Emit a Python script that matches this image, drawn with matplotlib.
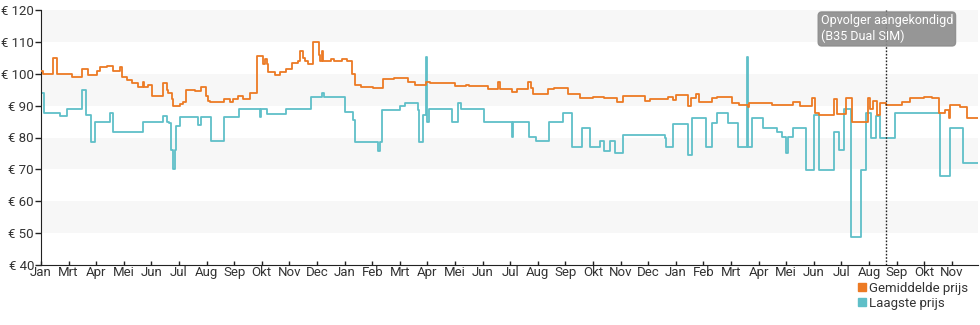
import matplotlib
matplotlib.use("Agg")
import matplotlib.pyplot as plt
from matplotlib.lines import Line2D

plt.rcParams['font.family'] = ['Roboto', 'DejaVu Sans']

# x in maanden sinds begin van de reeks
maand_labels = ["Jan", "Mrt", "Apr", "Mei", "Jun", "Jul", "Aug", "Sep", "Okt", "Nov", "Dec",
                "Jan", "Feb", "Mrt", "Apr", "Mei", "Jun", "Jul", "Aug", "Sep", "Okt", "Nov", "Dec",
                "Jan", "Feb", "Mrt", "Apr", "Mei", "Jun", "Jul", "Aug", "Sep", "Okt", "Nov"]

gem_x = [0, 0.08, 0.45, 0.57, 1.11, 1.47, 1.71, 2.02, 2.14, 2.38, 2.62, 2.86, 2.92, 3.10, 3.29,
         3.53, 3.68, 3.73, 3.89, 4.01, 4.43, 4.55, 4.61, 4.73, 4.79, 5.04, 5.16, 5.25, 5.58, 5.80,
         5.97, 6.06, 6.12, 6.63, 6.84, 6.97, 7.15, 7.33, 7.57, 7.81, 8.06, 8.12, 8.18, 8.24, 8.48,
         8.66, 8.88, 9.08, 9.32, 9.38, 9.51, 9.57, 9.69, 9.87, 10.08, 10.11, 10.17, 10.23, 10.5,
         10.6, 10.9, 11.1, 11.26, 11.38, 11.6, 12.04, 12.40, 12.8, 13.31, 13.55, 13.96, 14.1, 15.0,
         15.4, 15.5, 16.2, 16.55, 16.63, 17.05, 17.23, 17.66, 17.75, 17.84, 18.38, 18.6, 19.1,
         19.53, 20.01, 20.4, 20.86, 21.1, 21.88, 22.07, 22.7, 22.9, 23.0, 23.45, 23.55, 23.75,
         23.85, 24.3, 24.5, 25.05, 25.3, 25.6, 25.65, 26.5, 26.8, 27.25, 27.5, 27.95, 28.05, 28.2,
         28.75, 28.85, 29.15, 29.4, 29.95, 30.05, 30.15, 30.3, 30.4, 30.62, 31.2, 31.5, 32.0, 32.3,
         32.55, 32.75, 32.9, 32.95, 33.3, 33.55, 33.95]
gem_prijs = [101, 100, 105, 100, 99, 101.5, 99.5, 101, 102, 102.5, 101, 102, 99, 98, 97,
             96, 97.5, 96, 96.5, 93, 97, 95, 94, 92, 90, 90.5, 91, 95, 94.5, 96,
             93, 91.5, 91, 92, 91, 92, 93, 92, 94, 105.5, 103, 104.5, 103, 100.5, 99.5,
             100.5, 101.5, 103.5, 104, 107, 105, 104, 103, 110, 106, 104, 107, 104, 104.5,
             104, 104.5, 104, 100, 96.5, 96, 95.4, 98.3, 98.6, 97.5, 96.5, 97.5, 97.2, 96.2,
             96.5, 96.2, 95.1, 97.5, 95.1, 94.4, 95.1, 97.5, 95.5, 93.8, 95.1, 95.4, 93.6,
             92.3, 92.6, 92.3, 91.2, 93, 91.5, 92, 92.8, 91.8, 93.3, 89.9, 92.3, 93.5,
             91.2, 92.3, 92.8, 90.7, 90.2, 89.5, 90.7, 90.2, 90.2, 91.2, 90, 92.3, 87.6, 87.1,
             92, 87.3, 92.3, 85, 92.5, 89, 91.5, 87, 90.7, 90.2, 91, 92.3, 92.6, 92.3,
             87.6, 88.5, 86.1, 90.2, 89.7, 86.1, 86.1]

laag_x = [0, 0.1, 0.69, 0.93, 1.47, 1.63, 1.80, 1.96, 2.5, 2.62, 3.71, 4.43, 4.55, 4.62, 4.70,
          4.78, 4.84, 4.90, 5.05, 5.70, 5.78, 6.15, 6.63, 7.19, 7.93, 7.98, 8.2, 8.88, 9.8, 10.17,
          10.25, 11.0, 11.3, 11.38, 12.22, 12.30, 12.35, 13.0, 13.19, 13.65, 13.7, 13.85, 13.94,
          13.99, 14.05, 14.9, 15.1, 15.2, 16.06, 17.06, 17.1, 17.69, 17.95, 18.4, 18.9, 19.23,
          19.6, 19.9, 20.25, 20.4, 20.6, 20.8, 21.1, 22.6, 22.66, 22.9, 23.45, 23.6, 24.1, 24.3,
          24.5, 24.9, 25.27, 25.58, 25.63, 25.75, 26.15, 26.66, 26.85, 27.0, 27.05, 27.25, 27.7,
          28.0, 28.2, 28.75, 28.9, 29.1, 29.35, 29.7, 29.9, 30.07, 30.25, 30.4, 30.95, 32.58,
          32.95, 33.4, 33.95]
laag_prijs = [93.9, 87.8, 86.7, 88.8, 94.9, 87, 78.7, 85, 87.8, 81.8, 85, 86.7, 85, 84.5, 76.1,
              70, 76, 83.6, 86.5, 83.9, 86.5, 79, 86.5, 88.9, 86.5, 88.9, 87.4, 88.9, 92.8, 93.9,
              92.8, 88.1, 85.6, 78.7, 75.9, 78.7, 88.6, 89.9, 90.9, 88.6, 78.7, 87, 105.2,
              85, 88.8, 85, 90.9, 88.8, 85, 80.1, 85, 80.3, 79, 85, 87.8, 77.1,
              82.9, 77.1, 79, 75.9, 79, 75, 80.8, 80, 77.1, 84.2, 74.5, 86, 77.1, 84.4,
              87.8, 84.4, 77.1, 105.2, 77.1, 86, 82.9, 81.8, 80.3, 75, 80.3, 82.9, 69.8,
              87.1, 69.8, 81.8, 76.1, 88.8, 48.9, 69.8, 87.8, 79.7, 86.7, 79.7, 87.8, 67.9,
              82.9, 72.1, 72.1]

opvolger_x = 30.62

oranje = '#ec7a24'
turkoois = '#5fbfc8'

fig = plt.figure(figsize=(9.8, 3.25), dpi=100)
ax = fig.add_axes([41 / 980, 60 / 325, 937 / 980, 255 / 325])

# afwisselende grijze banden
for onder in (110, 90, 70, 50):
    ax.axhspan(onder, onder + 10, color='#f7f7f7', zorder=0, lw=0)

ax.step(laag_x, laag_prijs, where='post', color=turkoois, lw=1.3, zorder=2)
ax.step(gem_x, gem_prijs, where='post', color=oranje, lw=1.3, zorder=3)

ax.axvline(opvolger_x, color='#222222', lw=1.0, ls=(0, (1.2, 1.2)), zorder=4)
ax.text(28.25, 118.6, "Opvolger aangekondigd\n(B35 Dual SIM)", ha='left', va='top',
        fontsize=9, color='white', linespacing=1.25, zorder=5,
        bbox=dict(boxstyle='round,pad=0.2,rounding_size=0.3', fc='#8c8c8c', ec='#8c8c8c',
                  alpha=0.9))

ax.set_xlim(0, 33.95)
ax.set_ylim(40, 120)
ax.set_yticks(range(40, 121, 10))
ax.set_yticklabels([f"€ {v}" for v in range(40, 121, 10)])
ax.set_xticks(range(len(maand_labels)))
ax.set_xticklabels(maand_labels)

for kant in ('top', 'right'):
    ax.spines[kant].set_visible(False)
ax.spines['left'].set_color('#222222')
ax.spines['bottom'].set_color('#222222')
ax.tick_params(axis='y', direction='out', length=4, width=1, colors='#222222',
               labelsize=9.5, labelcolor='#333333', pad=1)
ax.tick_params(axis='x', direction='in', length=3, width=1, colors='#222222',
               labelsize=9.5, labelcolor='#333333', pad=1)

handles = [Line2D([], [], ls='none', marker='s', ms=6, color=oranje),
           Line2D([], [], ls='none', marker='s', ms=6, color=turkoois)]
fig.legend(handles, ["Gemiddelde prijs", "Laagste prijs"], loc='lower right',
           bbox_to_anchor=(1.0, 0.01), frameon=False, fontsize=9.5, handletextpad=0.0,
           labelspacing=0.15, handlelength=1.0, labelcolor='#333333')

fig.savefig('out.png', dpi=100)
